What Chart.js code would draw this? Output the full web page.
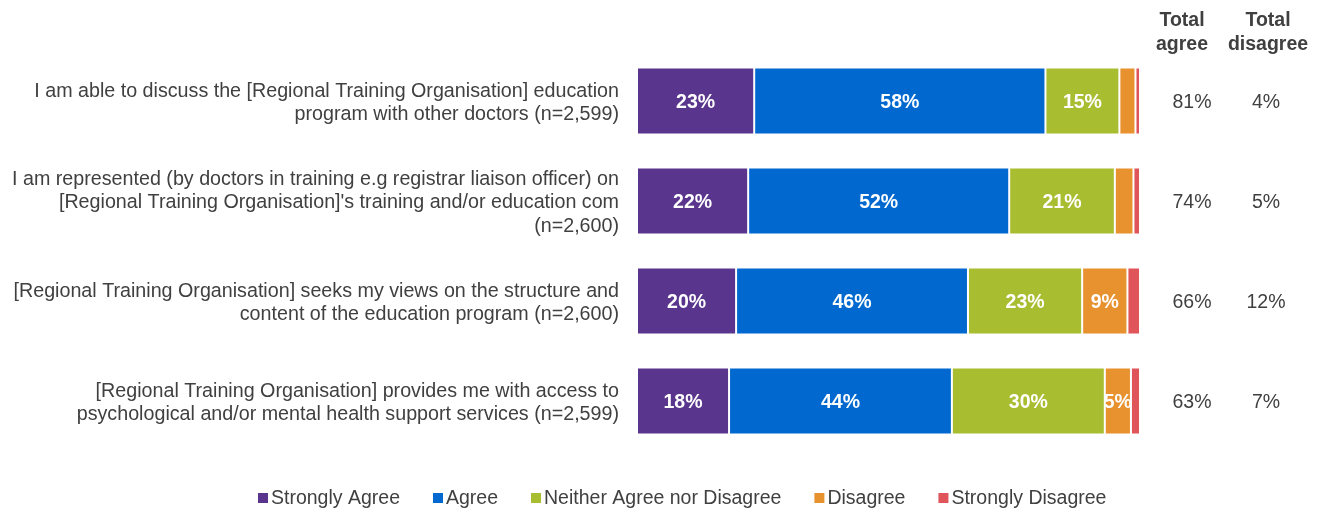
<!DOCTYPE html>
<html>
<head>
<meta charset="utf-8">
<script src="https://cdn.jsdelivr.net/npm/chart.js@4"></script>
<style>
html,body{margin:0;padding:0;background:#fff;}
#wrap{width:1323px;height:511px;position:relative;}
</style>
</head>
<body>
<div id="wrap"><canvas id="c" width="1323" height="511"></canvas></div>
<script>
const categories = [
  ["I am able to discuss the [Regional Training Organisation] education", "program with other doctors (n=2,599)"],
  ["I am represented (by doctors in training e.g registrar liaison officer) on", "[Regional Training Organisation]'s training and/or education com", "(n=2,600)"],
  ["[Regional Training Organisation] seeks my views on the structure and", "content of the education program (n=2,600)"],
  ["[Regional Training Organisation] provides me with access to", "psychological and/or mental health support services (n=2,599)"]
];
const seriesNames = ["Strongly Agree", "Agree", "Neither Agree nor Disagree", "Disagree", "Strongly Disagree"];
const stronglyAgree = [23.3, 22.1, 19.7, 18.3];
const agree = [57.9, 51.9, 46.1, 44.3];
const neither = [14.7, 21.0, 22.7, 30.4];
const disagree = [3.2, 3.7, 9.0, 5.2];
const stronglyDisagree = [0.9, 1.3, 2.5, 1.8];
const totalAgree = ["81%", "74%", "66%", "63%"];
const totalDisagree = ["4%", "5%", "12%", "7%"];
const colors = ["#5A358E", "#0068CF", "#A8BD30", "#E8922F", "#E0555A"];
const textColor = "#404040";
const FONT = "'Liberation Sans', Arial, sans-serif";
const FS = 19.5;

const seriesValues = [stronglyAgree, agree, neither, disagree, stronglyDisagree];

const labelPlugin = {
  id: 'segLabels',
  afterDatasetsDraw(chart) {
    const ctx = chart.ctx;
    ctx.save();
    ctx.font = "bold " + FS + "px " + FONT;
    ctx.fillStyle = "#ffffff";
    ctx.textAlign = "center";
    ctx.textBaseline = "middle";
    chart.data.datasets.forEach((ds, di) => {
      const meta = chart.getDatasetMeta(di);
      meta.data.forEach((el, i) => {
        const v = ds.data[i];
        if (v >= 4.5) {
          ctx.fillText(Math.round(v) + "%", (el.x + el.base) / 2, el.y + 2);
        }
      });
    });
    // totals
    const ys = chart.scales.y;
    ctx.font = FS + "px " + FONT;
    ctx.fillStyle = textColor;
    categories.forEach((c, i) => {
      const y = ys.getPixelForValue(i) + 2;
      ctx.fillText(totalAgree[i], 1192, y);
      ctx.fillText(totalDisagree[i], 1266, y);
    });
    ctx.font = "bold " + FS + "px " + FONT;
    ctx.fillText("Total", 1182, 21);
    ctx.fillText("agree", 1182, 45);
    ctx.fillText("Total", 1268, 21);
    ctx.fillText("disagree", 1268, 45);
    // legend
    ctx.font = FS + "px " + FONT;
    ctx.textAlign = "left";
    let x = 258;
    const ly = 498;
    seriesNames.forEach((name, i) => {
      ctx.fillStyle = colors[i];
      ctx.fillRect(x, ly - 5, 10, 10);
      ctx.fillStyle = textColor;
      ctx.fillText(name, x + 13, ly + 1);
      x += 13 + ctx.measureText(name).width + 33;
    });
    ctx.restore();
  }
};

new Chart(document.getElementById('c'), {
  type: 'bar',
  data: {
    labels: categories,
    datasets: seriesValues.map((vals, i) => ({
      label: seriesNames[i],
      data: vals,
      backgroundColor: colors[i],
      borderColor: "rgba(255,255,255,0.7)",
      borderWidth: 1,
      borderSkipped: false,
      barPercentage: 0.67,
      categoryPercentage: 1.0
    }))
  },
  options: {
    indexAxis: 'y',
    responsive: false,
    animation: false,
    devicePixelRatio: 1,
    layout: { padding: { top: 51, right: 183, left: 0, bottom: 60 } },
    scales: {
      x: { stacked: true, min: 0, max: 100, display: false },
      y: {
        stacked: true,
        grid: { display: false, drawTicks: false },
        border: { display: false },
        ticks: {
          color: textColor,
          font: { family: FONT, size: 19.7, lineHeight: 1.2 },
          padding: 18,
          labelOffset: 2
        },
        afterFit(scale) { scale.width = 637; }
      }
    },
    plugins: {
      legend: { display: false },
      tooltip: { enabled: false }
    }
  },
  plugins: [labelPlugin]
});
</script>
</body>
</html>
